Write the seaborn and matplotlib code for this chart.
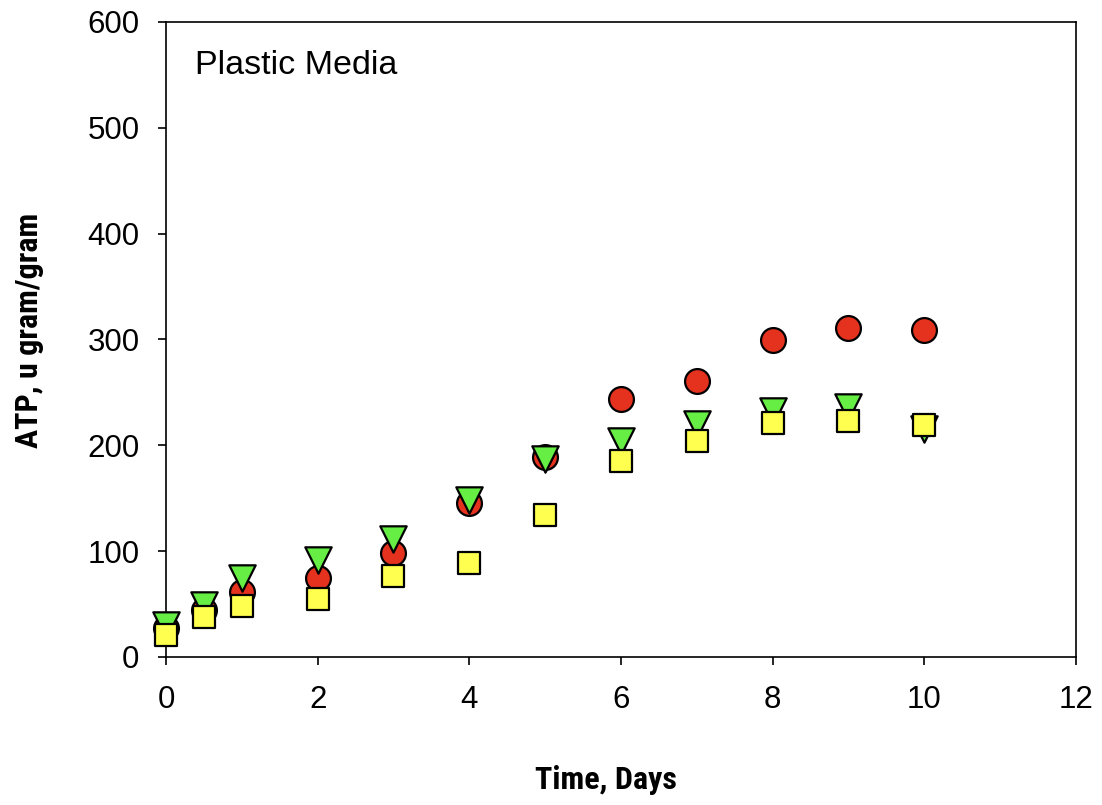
import pandas as pd
import matplotlib
matplotlib.use("Agg")
import matplotlib.pyplot as plt
from matplotlib import font_manager
import seaborn as sns

# data
days = [0, 0.5, 1, 2, 3, 4, 5, 6, 7, 8, 9, 10]
atp_red = [27, 44, 61, 75, 98, 145, 189, 244, 261, 299, 311, 309]
atp_green = [30, 49, 75, 92, 111, 148, 187, 204, 220, 232, 236, 215]
atp_yellow = [21, 38, 48, 55, 76, 89, 134, 185, 204, 221, 223, 219]

x_ticks = [0, 2, 4, 6, 8, 10, 12]
y_ticks = [0, 100, 200, 300, 400, 500, 600]

sns.set_style("white")
plt.rcParams['font.family'] = ['Liberation Sans', 'DejaVu Sans']
plt.rcParams['text.color'] = 'black'

# pick a condensed face for the axis titles if one is around
names = {f.name for f in font_manager.fontManager.ttflist}
narrow = None
for cand in ['Liberation Sans Narrow', 'Roboto Condensed', 'Open Sans Condensed',
             'DejaVu Sans Condensed']:
    if cand in names:
        narrow = cand
        break

fig = plt.figure(figsize=(11.02, 8.05), dpi=100)
ax = fig.add_axes([0.1506, 0.184, 0.8258, 0.7887])

series = [
    (atp_red, 'o', '#E5321F', 320),
    (atp_green, 'v', '#66EE44', 360),
    (atp_yellow, 's', '#FFFF4F', 260),
]
for vals, marker, color, size in series:
    df = pd.DataFrame({'day': days, 'atp': vals})
    sns.scatterplot(data=df, x='day', y='atp', marker=marker, color=color,
                    s=size, edgecolor='black', linewidth=1.6, ax=ax,
                    zorder=3, clip_on=False)

ax.set_xlim(0, 12)
ax.set_ylim(0, 600)
ax.set_xticks(x_ticks)
ax.set_yticks(y_ticks)
ax.tick_params(axis='both', which='major', bottom=True, left=True,
               direction='out', length=6, width=1.2,
               labelsize=22.5, colors='black')
ax.tick_params(axis='x', pad=14)
ax.tick_params(axis='y', pad=13)
for sp in ax.spines.values():
    sp.set_visible(True)
    sp.set_color('black')
    sp.set_linewidth(1.2)

if narrow:
    lab_font = dict(family=[narrow, 'Liberation Sans'], fontweight='bold',
                    fontsize=23)
else:
    lab_font = dict(family=['Liberation Sans'], fontweight='bold',
                    fontsize=20, fontstretch='condensed')
ax.set_xlabel('Time, Days', color='black', va='center', **lab_font)
ax.set_ylabel('ATP, u gram/gram', color='black', va='center', **lab_font)
ax.xaxis.set_label_coords(0.4835, -0.194)
ax.yaxis.set_label_coords(-0.1505, 0.515)

ax.text(0.032, 0.932, 'Plastic Media', transform=ax.transAxes,
        fontsize=24.5, ha='left', va='center', color='black')

fig.savefig('out.png', dpi=100)
